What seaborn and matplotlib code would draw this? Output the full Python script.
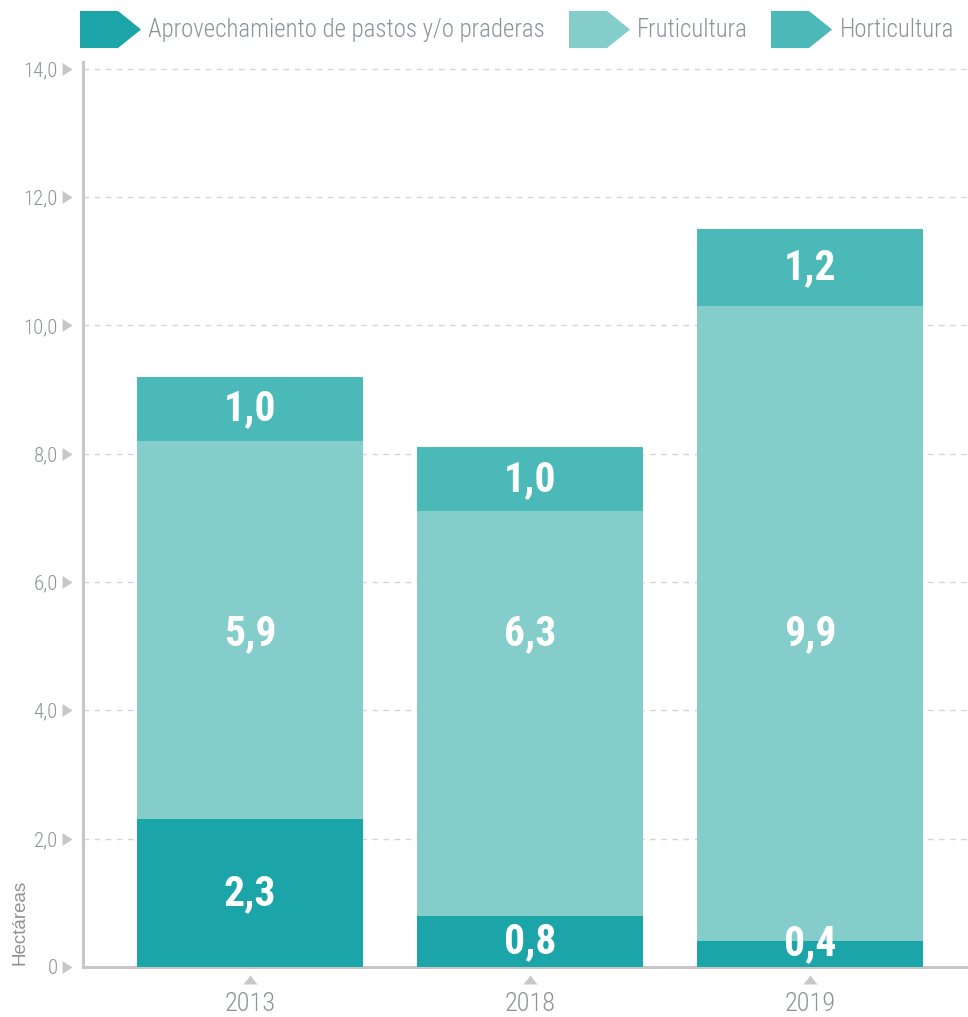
import numpy as np
import pandas as pd
import seaborn as sns
import matplotlib.pyplot as plt
from matplotlib import font_manager
from matplotlib.lines import Line2D
from matplotlib.path import Path

# Hectáreas por tipo de uso
years = ['2013', '2018', '2019']
pastos = [2.3, 0.8, 0.4]
fruticultura = [5.9, 6.3, 9.9]
horticultura = [1.0, 1.0, 1.2]
series_names = ['Aprovechamiento de pastos y/o praderas', 'Fruticultura', 'Horticultura']
y_ticks = [0, 2, 4, 6, 8, 10, 12, 14]

colors = {'Aprovechamiento de pastos y/o praderas': '#1BA5A8',
          'Fruticultura': '#84CDCB',
          'Horticultura': '#4AB9B8'}
gray_text = '#8E9398'
gray_line = '#C9C7C5'

sns.set_theme(style='white')

# look for a narrow font, fall back to DejaVu
names = {f.name for f in font_manager.fontManager.ttflist}
narrow = None
for fam in ['Roboto Condensed', 'Liberation Sans Narrow', 'Open Sans Condensed', 'DejaVu Sans']:
    if fam in names:
        narrow = fam
        break
plt.rcParams['font.family'] = [narrow, 'DejaVu Sans']
plt.rcParams['font.stretch'] = 'condensed'

df = pd.DataFrame({'year': years, 'pastos': pastos,
                   'fruticultura': fruticultura, 'horticultura': horticultura})
df['base2'] = df['pastos']
df['base3'] = df['pastos'] + df['fruticultura']
df['total'] = df['base3'] + df['horticultura']

fig = plt.figure(figsize=(9.68, 10.17), dpi=100)
ax = fig.add_axes([0.0857, 0.0492, 0.9143, 0.8901])

# stacked bars: draw the tallest first, then cover with lower stacks
bar_w = 0.807
for col, name in [('total', 'Horticultura'), ('base3', 'Fruticultura'),
                  ('base2', 'Aprovechamiento de pastos y/o praderas')]:
    sns.barplot(data=df, x='year', y=col, color=colors[name], saturation=1,
                width=bar_w, linewidth=0, edgecolor='none', ax=ax, zorder=2)

# value labels; middle labels sit on one common line like the original
mid_label_y = 5.2
for i, row in df.iterrows():
    segs = [(max(row['pastos'] / 2, 0.37), row['pastos']),
            (mid_label_y, row['fruticultura']),
            (row['base3'] + row['horticultura'] / 2, row['horticultura'])]
    for yc, v in segs:
        ax.text(i, yc, f"{v:.1f}".replace('.', ','), ha='center', va='center',
                color='white', fontsize=30, fontweight='bold', zorder=5)

ax.set_xlim(-0.596, 2.564)
ax.set_ylim(0, 14.11)
ax.set_yticks(y_ticks)
ax.set_yticklabels(['0' if t == 0 else f"{t:.1f}".replace('.', ',') for t in y_ticks])
ax.set_xlabel('')
ax.set_ylabel('Hectáreas', color=gray_text, fontsize=13.5,
              family=['Liberation Sans', 'DejaVu Sans'], fontstretch='normal',
              ha='left', va='center', rotation=90)
ax.yaxis.set_label_coords(-0.0715, 0.002)

ax.yaxis.grid(True, linestyle=(0, (4, 4)), color='#D5D5D5', linewidth=1)
ax.set_axisbelow(True)
for s in ['top', 'right']:
    ax.spines[s].set_visible(False)
for s in ['left', 'bottom']:
    ax.spines[s].set_color(gray_line)
    ax.spines[s].set_linewidth(2.2)
    ax.spines[s].set_zorder(1)

ax.tick_params(axis='y', left=True, labelsize=15, labelcolor=gray_text, pad=18, length=0)
ax.tick_params(axis='x', bottom=True, labelsize=19, labelcolor=gray_text, pad=18, length=0)
for lab in ax.get_xticklabels() + ax.get_yticklabels():
    lab.set_fontweight('light')

# triangle tick markers
tri_right = Path([(-21, -6.5), (-11, 0), (-21, 6.5), (-21, -6.5)],
                 [Path.MOVETO, Path.LINETO, Path.LINETO, Path.CLOSEPOLY])
tri_up = Path([(-7, -17), (7, -17), (0, -8), (-7, -17)],
              [Path.MOVETO, Path.LINETO, Path.LINETO, Path.CLOSEPOLY])
for ticks, shape, size in [(ax.yaxis.get_major_ticks(), tri_right, 30.2),
                           (ax.xaxis.get_major_ticks(), tri_up, 24.5)]:
    for t in ticks:
        t.tick1line.set_visible(True)
        t.tick1line.set_marker(shape)
        t.tick1line.set_markersize(size)
        t.tick1line.set_markerfacecolor(gray_line)
        t.tick1line.set_markeredgewidth(0)

# legend with arrow-shaped swatches
arrow = Path([(-30.5, -18.5), (7.5, -18.5), (30.5, 0), (7.5, 18.5), (-30.5, 18.5), (-30.5, -18.5)],
             [Path.MOVETO] + [Path.LINETO] * 4 + [Path.CLOSEPOLY])
handles = [Line2D([], [], linestyle='', marker=arrow, markersize=44,
                  markerfacecolor=colors[n], markeredgewidth=0) for n in series_names]
leg = fig.legend(handles, series_names, loc='upper right', bbox_to_anchor=(1.009, 1.004),
                 ncol=3, frameon=False, fontsize=17.9, labelcolor=gray_text,
                 handlelength=2.3, handletextpad=0.4, columnspacing=1.0)
for txt in leg.get_texts():
    txt.set_fontweight('light')

fig.savefig('out.png', dpi=100)
